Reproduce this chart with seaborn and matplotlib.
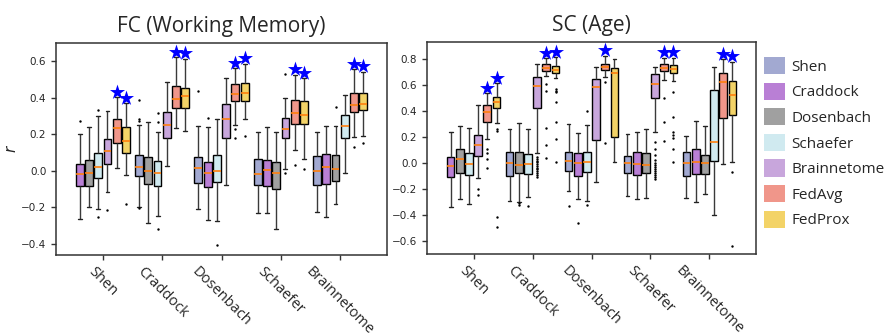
import numpy as np
import pandas as pd
import matplotlib
matplotlib.use("Agg")
import matplotlib.pyplot as plt
from matplotlib.patches import Patch
import seaborn as sns

# ---------------- data ----------------
ATLASES = ["Shen", "Craddock", "Dosenbach", "Schaefer", "Brainnetome"]
METHODS = ["Shen", "Craddock", "Dosenbach", "Schaefer", "Brainnetome", "FedAvg", "FedProx"]
COLORS = ["#A2A9D1", "#B97FD5", "#A0A0A0", "#D0EAF0", "#C8A6DC", "#F0968A", "#F3D367"]
PANEL_TITLES = ["FC (Working Memory)", "SC (Age)"]

# each box: [whisker low, q1, median, q3, whisker high]
# boxes in each group are the other four atlases, then FedAvg, FedProx
FC_SHEN = [[-0.264, -0.085, -0.016, 0.038, 0.200], [-0.198, -0.080, -0.011, 0.060, 0.238],
           [-0.207, -0.040, 0.022, 0.098, 0.300], [-0.116, 0.038, 0.109, 0.176, 0.329],
           [0.018, 0.153, 0.233, 0.285, 0.402], [-0.022, 0.098, 0.165, 0.240, 0.369]]
FC_SHEN_OUT = [[0.273], [], [0.333, -0.253], [-0.216], [], [-0.180]]
FC_CRADDOCK = [[-0.198, -0.027, 0.020, 0.087, 0.249], [-0.285, -0.071, 0.000, 0.078, 0.265],
               [-0.247, -0.082, -0.009, 0.056, 0.215], [0.029, 0.178, 0.251, 0.320, 0.485],
               [0.233, 0.344, 0.395, 0.464, 0.623], [0.218, 0.347, 0.411, 0.455, 0.614]]
FC_CRADDOCK_OUT = [[0.387, 0.284, 0.271, -0.205], [], [0.318, 0.270, -0.318], [], [], []]
FC_DOSENBACH = [[-0.207, -0.067, 0.016, 0.076, 0.247], [-0.271, -0.087, -0.011, 0.051, 0.242],
                [-0.275, -0.062, 0.000, 0.087, 0.284], [-0.075, 0.178, 0.284, 0.365, 0.507],
                [0.253, 0.380, 0.420, 0.478, 0.562], [0.282, 0.385, 0.425, 0.480, 0.587]]
FC_DOSENBACH_OUT = [[0.440], [0.289], [-0.405], [], [0.229, 0.178], [0.189]]
FC_SCHAEFER = [[-0.229, -0.075, -0.018, 0.064, 0.211], [-0.229, -0.085, 0.005, 0.060, 0.238],
               [-0.318, -0.098, -0.009, 0.049, 0.211], [0.009, 0.178, 0.229, 0.291, 0.398],
               [0.115, 0.256, 0.316, 0.387, 0.526], [0.064, 0.255, 0.304, 0.385, 0.508]]
FC_SCHAEFER_OUT = [[], [], [], [0.529, -0.009], [0.031], [0.013]]
FC_BRAINNETOME = [[-0.227, -0.075, -0.002, 0.080, 0.215], [-0.253, -0.071, 0.022, 0.091, 0.247],
                  [-0.182, -0.055, 0.011, 0.087, 0.245], [-0.009, 0.180, 0.247, 0.307, 0.416],
                  [0.185, 0.324, 0.360, 0.429, 0.556], [0.189, 0.333, 0.365, 0.427, 0.544]]
FC_BRAINNETOME_OUT = [[], [], [0.351], [], [0.133], [0.155]]

SC_SHEN = [[-0.338, -0.106, -0.021, 0.046, 0.240], [-0.276, -0.075, 0.028, 0.111, 0.286],
           [-0.315, -0.093, -0.010, 0.080, 0.271], [-0.114, 0.057, 0.139, 0.217, 0.449],
           [0.183, 0.312, 0.390, 0.446, 0.535], [0.310, 0.420, 0.467, 0.506, 0.615]]
SC_SHEN_OUT = [[], [], [], [-0.201, -0.243], [0.106, 0.080, 0.034, -0.041],
               [0.260, 0.248, -0.418, -0.490]]
SC_CRADDOCK = [[-0.292, -0.098, 0.003, 0.085, 0.263], [-0.297, -0.075, -0.013, 0.083, 0.310],
               [-0.263, -0.085, -0.005, 0.070, 0.263], [0.077, 0.420, 0.594, 0.661, 0.759],
               [0.671, 0.710, 0.733, 0.759, 0.806], [0.653, 0.692, 0.717, 0.743, 0.814]]
SC_CRADDOCK_OUT = [[], [-0.320, -0.308], [-0.333],
                   [0.048, 0.030, 0.018, 0.005, -0.010, -0.022, -0.035, -0.050, -0.062, -0.078, -0.090, -0.108],
                   [0.606, 0.555, 0.271, 0.137, 0.039],
                   [0.568, 0.555, 0.542, 0.465, 0.317, 0.188, 0.010]]
SC_DOSENBACH = [[-0.214, -0.062, 0.015, 0.088, 0.297], [-0.279, -0.098, -0.003, 0.080, 0.232],
                [-0.292, -0.072, 0.005, 0.088, 0.289], [-0.150, 0.175, 0.586, 0.643, 0.741],
                [0.658, 0.717, 0.738, 0.759, 0.825], [0.008, 0.199, 0.692, 0.728, 0.797]]
SC_DOSENBACH_OUT = [[-0.333], [-0.465], [0.403, -0.325], [], [0.619, 0.150], []]
SC_SCHAEFER = [[-0.255, -0.075, 0.000, 0.054, 0.222], [-0.279, -0.093, -0.008, 0.085, 0.235],
               [-0.271, -0.080, -0.013, 0.077, 0.263], [0.240, 0.498, 0.606, 0.681, 0.735],
               [0.635, 0.707, 0.733, 0.759, 0.810], [0.630, 0.689, 0.720, 0.751, 0.810]]
SC_SCHAEFER_OUT = [[], [], [],
                   [0.163, 0.106, 0.059, 0.022, 0.001, -0.016, -0.031, -0.047, -0.060, -0.077, -0.091, -0.106, -0.120],
                   [0.498, 0.312, 0.165],
                   [0.545, 0.351, 0.240, 0.212, 0.191, 0.108, 0.005]]
SC_BRAINNETOME = [[-0.268, -0.098, 0.000, 0.085, 0.204], [-0.299, -0.083, 0.010, 0.106, 0.325],
                  [-0.237, -0.088, 0.003, 0.062, 0.281], [-0.397, 0.015, 0.160, 0.560, 0.735],
                  [-0.010, 0.343, 0.619, 0.692, 0.800], [0.010, 0.366, 0.524, 0.630, 0.780]]
SC_BRAINNETOME_OUT = [[], [], [], [], [], [-0.072, -0.635]]

# significance stars: (group, method)
FC_STARS = [(a, m) for a in ATLASES for m in ["FedAvg", "FedProx"]]
SC_STARS = [(a, m) for a in ATLASES for m in ["FedAvg", "FedProx"]
            if not (a == "Dosenbach" and m == "FedProx")]

FC_STATS = [FC_SHEN, FC_CRADDOCK, FC_DOSENBACH, FC_SCHAEFER, FC_BRAINNETOME]
FC_OUTS = [FC_SHEN_OUT, FC_CRADDOCK_OUT, FC_DOSENBACH_OUT, FC_SCHAEFER_OUT, FC_BRAINNETOME_OUT]
SC_STATS = [SC_SHEN, SC_CRADDOCK, SC_DOSENBACH, SC_SCHAEFER, SC_BRAINNETOME]
SC_OUTS = [SC_SHEN_OUT, SC_CRADDOCK_OUT, SC_DOSENBACH_OUT, SC_SCHAEFER_OUT, SC_BRAINNETOME_OUT]

# ---------------- build tables ----------------
SLOT = 0.156


def build(stats, outs, stars):
    rows, orows, srows = [], [], []
    for gi, g in enumerate(ATLASES):
        members = [a for a in ATLASES if a != g] + ["FedAvg", "FedProx"]
        for k, m in enumerate(members):
            pos = round(gi + (k - 2.5) * SLOT, 4)
            for v in stats[gi][k]:
                rows.append(dict(pos=pos, method=m, r=v))
            for v in outs[gi][k]:
                orows.append(dict(pos=pos, r=v))
            if (g, m) in stars:
                srows.append(dict(pos=pos, top=stats[gi][k][4]))
    return pd.DataFrame(rows), pd.DataFrame(orows), pd.DataFrame(srows)


sns.set_style("ticks")
plt.rcParams["font.family"] = ["DejaVu Sans"]

fig = plt.figure(figsize=(8.86, 3.33), dpi=100)
ax1 = fig.add_axes([56 / 886, 1 - 255 / 333, 331 / 886, 212 / 333])
ax2 = fig.add_axes([427 / 886, 1 - 254 / 333, 329 / 886, 212 / 333])

palette = dict(zip(METHODS, COLORS))
panels = [(ax1, FC_STATS, FC_OUTS, FC_STARS, (-0.46, 0.70), 0.03),
          (ax2, SC_STATS, SC_OUTS, SC_STARS, (-0.70, 0.93), 0.04)]

for idx, (ax, st, ou, sr, ylim, off) in enumerate(panels):
    df, dfo, dfs = build(st, ou, sr)
    sns.boxplot(data=df, x="pos", y="r", hue="method", palette=palette,
                hue_order=METHODS, native_scale=True, dodge=False, width=0.85,
                whis=(0, 100), fliersize=0, saturation=1, linecolor="black",
                linewidth=1.0, medianprops=dict(color="#FF7F0E", linewidth=1.2),
                whiskerprops=dict(color="#3a3a3a"), capprops=dict(color="#222222"),
                legend=False, ax=ax)
    sns.scatterplot(data=dfo, x="pos", y="r", color="black", s=3, linewidth=0,
                    ax=ax, legend=False, zorder=5)
    dfs["star"] = dfs["top"] + off
    sns.scatterplot(data=dfs, x="pos", y="star", color="#0000FF", marker="*",
                    s=130, linewidth=0, ax=ax, legend=False, zorder=6)
    ax.set_xlim(-0.79, 4.79)
    ax.set_ylim(*ylim)
    ax.set_xticks(range(len(ATLASES)))
    ax.set_xticklabels(ATLASES, rotation=-45, ha="center",
                       fontsize=10.5, family="Open Sans")
    ax.tick_params(axis="x", pad=3, length=3.5, width=1, color="#333333")
    ax.tick_params(axis="y", labelsize=7.5, length=3.5, width=1, color="#333333")
    ax.set_xlabel("")
    ax.set_ylabel("")
    for s in ax.spines.values():
        s.set_color("#333333")
        s.set_linewidth(1.1)
    ax.set_title(PANEL_TITLES[idx], fontsize=15, family="Open Sans", pad=8)

ax1.set_ylabel("r", fontstyle="italic", fontsize=11, labelpad=2)

handles = [Patch(facecolor=c, edgecolor="none", label=m) for m, c in zip(METHODS, COLORS)]
fig.legend(handles=handles, loc="upper left", bbox_to_anchor=(764 / 886, 1 - 57 / 333),
           frameon=False, prop=dict(family="Open Sans", size=11),
           handlelength=1.35, handleheight=1.35, handletextpad=0.45,
           labelspacing=0.52, borderpad=0, borderaxespad=0)

fig.savefig("out.png", dpi=100)
